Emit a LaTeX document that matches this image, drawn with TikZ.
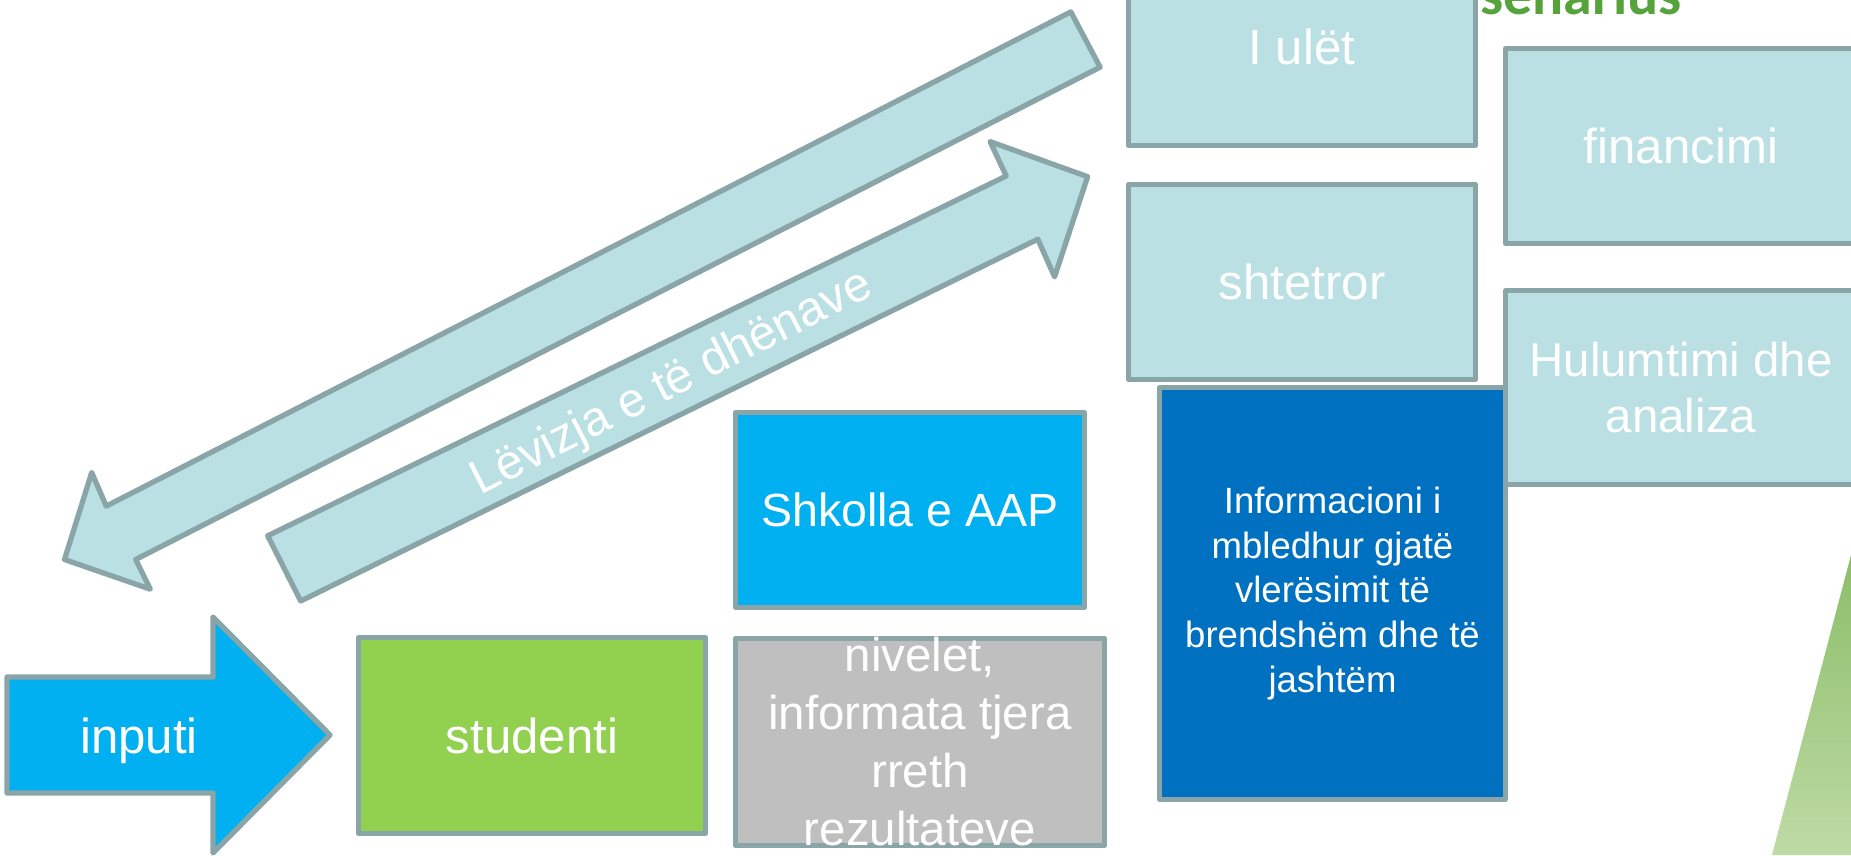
\documentclass[tikz,border=0pt]{standalone}
\usepackage{fontspec}
\setmainfont{Liberation Sans}
\newfontfamily\titlefont{Carlito}
\usepackage{tikz}
\usetikzlibrary{positioning}

\definecolor{boxline}{RGB}{138,165,168}
\definecolor{lightfill}{RGB}{187,224,227}
\definecolor{skyfill}{RGB}{0,176,240}
\definecolor{deepfill}{RGB}{0,112,192}
\definecolor{grassfill}{RGB}{146,208,80}
\definecolor{greyfill}{RGB}{191,191,191}
\definecolor{titlegreen}{RGB}{86,163,60}
\definecolor{wedgetop}{RGB}{140,190,105}
\definecolor{wedgebottom}{RGB}{190,218,165}

\begin{document}
\begin{tikzpicture}[x=0.02cm,y=-0.02cm,line join=round,
	box/.style={draw=boxline,line width=3pt,text=white,align=center,inner sep=0pt,font=\fontsize{28}{33}\selectfont},
	bigbox/.style={box,minimum width=6.94cm,minimum height=3.9cm},
	blockarrow/.style={draw=boxline,line width=3pt,fill=lightfill}]
	
	\useasboundingbox (0,0) rectangle (1851,855);
	\clip (0,0) rectangle (1851,855);
	\fill[white] (0,0) rectangle (1851,855);
	
	% title, partly off the page
	\node[anchor=base west,inner sep=0pt,text=titlegreen,font=\titlefont\bfseries\fontsize{33}{36}\selectfont] (title) at (1480,15) {senarius};
	
	% green wedge, bottom right
	\shade[top color=wedgetop,bottom color=wedgebottom] (1772,855) -- (1851,555) -- (1851,855) -- cycle;
	
	% the two block arrows
	\draw[blockarrow] (1070.8,11.9) -- (106.3,506.1) -- (91.7,472.5) -- (64.5,559.5) -- (150.3,589.2) -- (135.7,559.5) -- (1100.1,67.2) -- cycle;
	\draw[blockarrow] (267.7,535.8) -- (1006.2,176) -- (990.1,141.6) -- (1087.6,176.7) -- (1054.6,276.8) -- (1037.8,239.2) -- (300.7,601) -- cycle;
	\node[rotate=27,text=white,inner sep=0pt,font=\fontsize{27.5}{31}\selectfont] (flow) at (672,384) {Lëvizja e të dhënave};
	
	% input arrow
	\draw[line width=3pt,draw=boxline,fill=skyfill] (7,677) -- (213,677) -- (213,617) -- (330,735) -- (213,853) -- (213,793) -- (7,793) -- cycle;
	\node[text=white,inner sep=0pt,font=\fontsize{28}{33}\selectfont] (inputi) at (139,741) {inputi};
	
	% right column
	\node[bigbox,fill=lightfill,minimum height=3.94cm] (iulet) at (1302,47) {I ulët};
	\node[bigbox,fill=lightfill] (shtetror) at (1302,282) {shtetror};
	\node[bigbox,fill=lightfill,minimum width=7.02cm] (financimi) at (1681,146) {financimi};
	\node[bigbox,fill=lightfill,minimum width=7.02cm,minimum height=3.88cm,font=\fontsize{27}{32.3}\selectfont] (hulumtimi) at (1681,387.5) {Hulumtimi dhe\\analiza};
	\node[box,fill=deepfill,minimum width=6.92cm,minimum height=8.24cm,font=\fontsize{20.8}{25.4}\selectfont] (info) at (1332.5,593.5) {Informacioni i\\mbledhur gjatë\\vlerësimit të\\brendshëm dhe të\\jashtëm};
	
	% middle column
	\node[bigbox,fill=skyfill,minimum width=6.98cm,font=\fontsize{26.5}{32}\selectfont] (shkolla) at (910,510) {Shkolla e AAP};
	\node[box,fill=greyfill,minimum width=7.38cm,minimum height=4.14cm] (nivelet) at (920,742) {};
	\node[text=white,align=center,inner sep=0pt,font=\fontsize{27}{33}\selectfont] (niveltext) at (nivelet) {nivelet,\\informata tjera\\rreth\\rezultateve};
	
	% student
	\node[bigbox,fill=grassfill,minimum height=3.92cm] (studenti) at (532,735.5) {studenti};
\end{tikzpicture}
\end{document}
